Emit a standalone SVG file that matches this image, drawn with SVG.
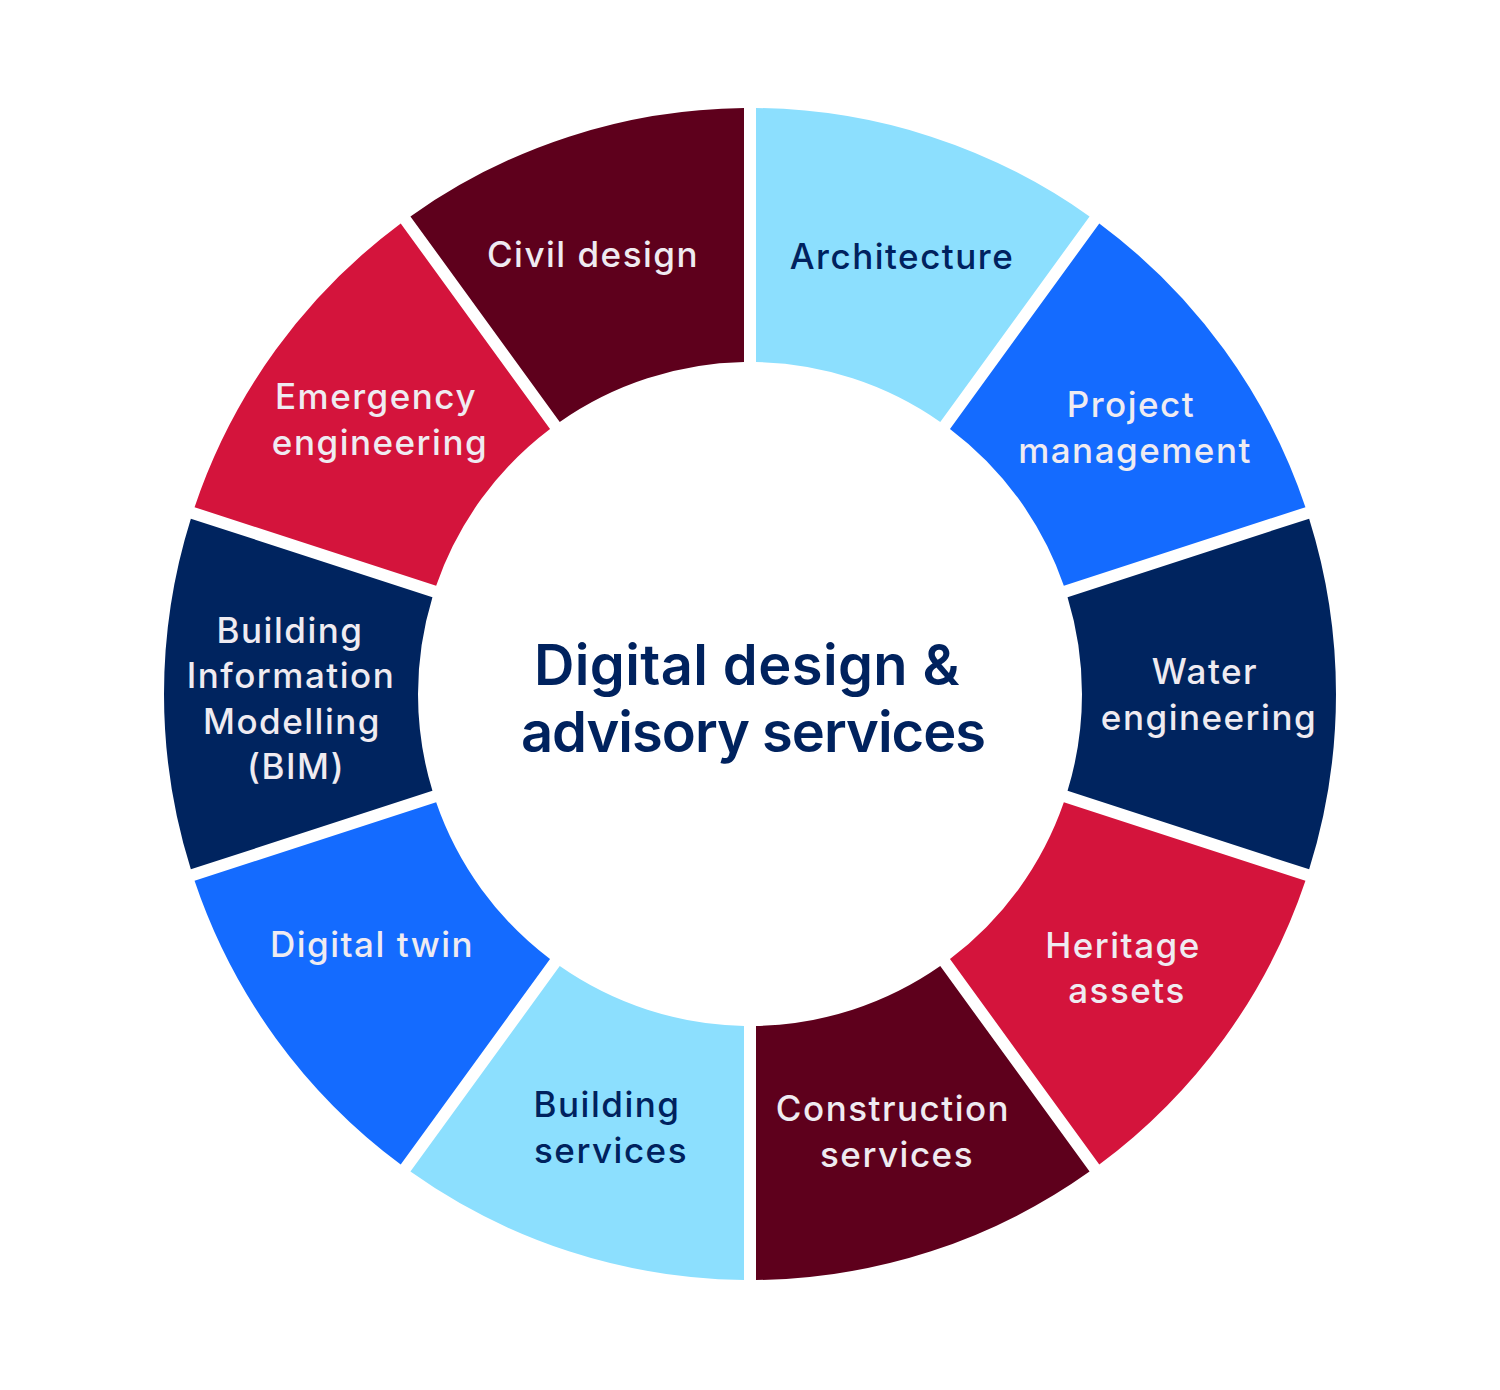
<svg xmlns="http://www.w3.org/2000/svg" width="1500" height="1390" viewBox="0 0 1500 1390">
<style>
.lb{fill:#8CDFFE}.bl{fill:#146BFF}.nv{fill:#00245F}.rd{fill:#D4143C}.mr{fill:#5E001C}
text{font-family:Inter,"Noto Sans","Liberation Sans",sans-serif;font-weight:500;font-size:35px;letter-spacing:1.5px;text-anchor:middle}
.dk{fill:#00225E}.lt{fill:#EFEBF1}
.title{font-size:56px;font-weight:600;letter-spacing:0;fill:#00225E}
</style>
<rect width="1500" height="1390" fill="#FFFFFF"/>
<g id="architecture">
<path class="lb" d="M756,108.03 A586,586 0 0 1 1089.57,216.41 L940.26,421.92 A332,332 0 0 0 756,362.05 Z"/>
<text class="dk" x="902" y="269">Architecture</text>
</g>
<g id="project-management">
<path class="bl" d="M1099.28,223.47 A586,586 0 0 1 1305.44,507.22 L1063.85,585.72 A332,332 0 0 0 949.97,428.98 Z"/>
<text class="lt" x="1131" y="417">Project</text>
<text class="lt" x="1135" y="463">management</text>
</g>
<g id="water-engineering">
<path class="nv" d="M1309.14,518.63 A586,586 0 0 1 1309.14,869.37 L1067.55,790.87 A332,332 0 0 0 1067.55,597.13 Z"/>
<text class="lt" x="1205" y="684">Water</text>
<text class="lt" x="1209" y="730">engineering</text>
</g>
<g id="heritage-assets">
<path class="rd" d="M1305.44,880.78 A586,586 0 0 1 1099.28,1164.53 L949.97,959.02 A332,332 0 0 0 1063.85,802.28 Z"/>
<text class="lt" x="1123" y="958">Heritage</text>
<text class="lt" x="1127" y="1003">assets</text>
</g>
<g id="construction-services">
<path class="mr" d="M1089.57,1171.59 A586,586 0 0 1 756,1279.97 L756,1025.95 A332,332 0 0 0 940.26,966.08 Z"/>
<text class="lt" x="893" y="1121">Construction</text>
<text class="lt" x="897" y="1167">services</text>
</g>
<g id="building-services">
<path class="lb" d="M744,1279.97 A586,586 0 0 1 410.43,1171.59 L559.74,966.08 A332,332 0 0 0 744,1025.95 Z"/>
<text class="dk" x="607" y="1117">Building</text>
<text class="dk" x="611" y="1163">services</text>
</g>
<g id="digital-twin">
<path class="bl" d="M400.72,1164.53 A586,586 0 0 1 194.56,880.78 L436.15,802.28 A332,332 0 0 0 550.03,959.02 Z"/>
<text class="lt" x="372" y="957">Digital twin</text>
</g>
<g id="bim">
<path class="nv" d="M190.86,869.37 A586,586 0 0 1 190.86,518.63 L432.45,597.13 A332,332 0 0 0 432.45,790.87 Z"/>
<text class="lt" x="290" y="643">Building</text>
<text class="lt" x="291" y="688">Information</text>
<text class="lt" x="292" y="734">Modelling</text>
<text class="lt" x="296" y="779">(BIM)</text>
</g>
<g id="emergency-engineering">
<path class="rd" d="M194.56,507.22 A586,586 0 0 1 400.72,223.47 L550.03,428.98 A332,332 0 0 0 436.15,585.72 Z"/>
<text class="lt" x="376" y="409">Emergency</text>
<text class="lt" x="380" y="455">engineering</text>
</g>
<g id="civil-design">
<path class="mr" d="M410.43,216.41 A586,586 0 0 1 744,108.03 L744,362.05 A332,332 0 0 0 559.74,421.92 Z"/>
<text class="lt" x="593" y="267">Civil design</text>
</g>
<g id="center">
<text class="title" x="747" y="685" style="letter-spacing:0.4px">Digital design &amp;</text>
<text class="title" x="753" y="752" style="letter-spacing:-1px">advisory services</text>
</g>
<g id="connectors"/>
</svg>
